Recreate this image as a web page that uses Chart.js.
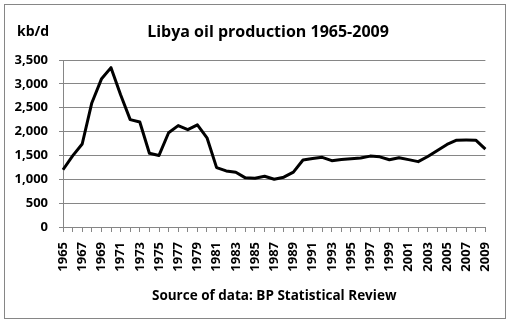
<!DOCTYPE html>
<html>
<head>
<meta charset="utf-8">
<title>Libya oil production 1965-2009</title>
<script src="https://cdn.jsdelivr.net/npm/chart.js@4/dist/chart.umd.min.js"></script>
<style>
    body { margin: 0; background: #fff; }
    #wrap { width: 511px; height: 326px; }
</style>
</head>
<body>
<div id="wrap"><canvas id="myChart" width="511" height="326"></canvas></div>
<script>
// Datos

const anios = [
    "1965", "1966", "1967", "1968", "1969", "1970", "1971", "1972", "1973", "1974",
    "1975", "1976", "1977", "1978", "1979", "1980", "1981", "1982", "1983", "1984",
    "1985", "1986", "1987", "1988", "1989", "1990", "1991", "1992", "1993", "1994",
    "1995", "1996", "1997", "1998", "1999", "2000", "2001", "2002", "2003", "2004",
    "2005", "2006", "2007", "2008", "2009"
];

// kb/d
const produccion = [
    1200, 1490, 1740, 2600, 3100, 3340, 2770, 2250, 2200, 1545,
    1500, 1975, 2125, 2040, 2140, 1870, 1245, 1175, 1148, 1030,
    1023, 1063, 1002, 1044, 1150, 1405, 1435, 1460, 1390, 1416,
    1432, 1445, 1486, 1470, 1410, 1452, 1412, 1370, 1478, 1605,
    1730, 1820, 1822, 1820, 1632
];

const ticksY = [0, 500, 1000, 1500, 2000, 2500, 3000, 3500];

const titulo = "Libya oil production 1965-2009";
const unidad = "kb/d";
const fuente = "Source of data: BP Statistical Review";

// Estilos

const gris = "#868686";
const fuenteTexto = "'Open Sans', 'Noto Sans', sans-serif";

// Marco, titulo y unidad

const textos = {
    id: "textos",
    beforeDraw: (chart) => {
        const c = chart.ctx;
        c.save();
        c.fillStyle = "#fff";
        c.fillRect(0, 0, chart.width, chart.height);
        c.strokeStyle = gris;
        c.lineWidth = 1;
        c.strokeRect(4.5, 4.5, 501, 314);
        c.restore();
    },
    afterDraw: (chart) => {
        const c = chart.ctx;
        c.save();
        c.fillStyle = "#000";
        c.textBaseline = "alphabetic";
        c.font = "bold 16px " + fuenteTexto;
        c.textAlign = "center";
        c.fillText(titulo, 268, 37);
        c.font = "bold 14px " + fuenteTexto;
        c.textAlign = "left";
        c.fillText(unidad, 17, 36);
        c.restore();
    }
};

// Grafico

const ctx = document.getElementById("myChart").getContext("2d");

const myChart = new Chart(ctx, {
    type: "line",
    data: {
        labels: anios,
        datasets: [{
            label: "Libya",
            data: produccion,
            borderColor: "#000",
            borderWidth: 3,
            borderJoinStyle: "round",
            pointRadius: 0,
            tension: 0,
            fill: false
        }]
    },
    options: {
        responsive: false,
        animation: false,
        devicePixelRatio: 1,
        layout: {
            padding: { left: 0, right: 17, top: 60, bottom: 0 }
        },
        plugins: {
            legend: { display: false },
            tooltip: { enabled: false }
        },
        scales: {
            x: {
                afterFit: (scale) => { scale.height = 99; },
                grid: {
                    drawOnChartArea: false,
                    drawTicks: true,
                    tickLength: 5,
                    color: gris
                },
                border: { color: gris },
                ticks: {
                    autoSkip: false,
                    minRotation: 90,
                    maxRotation: 90,
                    padding: 10,
                    color: "#000",
                    font: { family: fuenteTexto, size: 13, weight: "bold" },
                    callback: (valor, i) => i % 2 == 0 ? anios[i] : ""
                },
                title: {
                    display: true,
                    text: fuente,
                    color: "#000",
                    font: { family: fuenteTexto, size: 13.5, weight: "bold" },
                    padding: { top: 0, bottom: 22 }
                }
            },
            y: {
                min: ticksY[0],
                max: ticksY[ticksY.length - 1],
                afterFit: (scale) => { scale.width = 63; },
                afterBuildTicks: (scale) => {
                    scale.ticks = ticksY.map(v => ({ value: v }));
                },
                grid: {
                    color: gris,
                    lineWidth: 1,
                    drawTicks: true,
                    tickLength: 4
                },
                border: { color: gris },
                ticks: {
                    padding: 11,
                    color: "#000",
                    font: { family: fuenteTexto, size: 13, weight: "bold" },
                    callback: (valor) => valor.toLocaleString("en-US")
                }
            }
        }
    },
    plugins: [textos]
});
</script>
</body>
</html>
